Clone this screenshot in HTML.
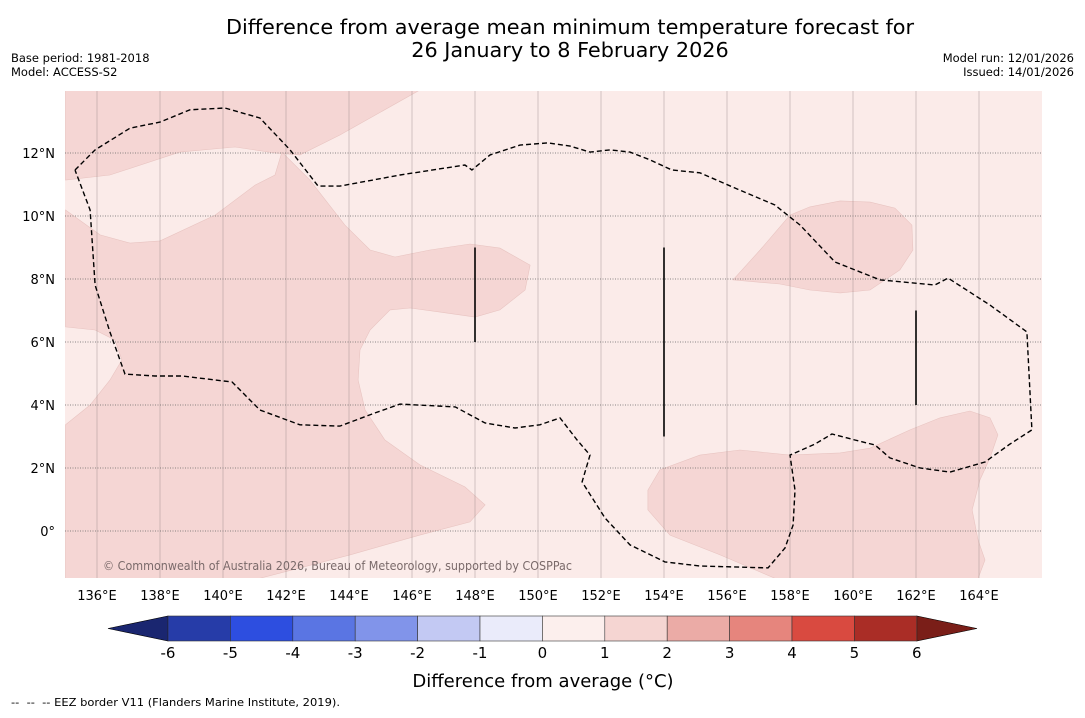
<!DOCTYPE html>
<html><head><meta charset="utf-8"><style>
body{margin:0;background:#fff;font-family:"Liberation Sans","DejaVu Sans",sans-serif;}
svg text{font-family:"DejaVu Sans","Liberation Sans",sans-serif;}
</style></head><body>
<svg id="chart" width="1085" height="713" xmlns="http://www.w3.org/2000/svg">
<rect width="1085" height="713" fill="#fff"/>
<text x="570" y="34" font-size="20.8" text-anchor="middle">Difference from average mean minimum temperature forecast for</text>
<text x="570" y="57" font-size="20.8" text-anchor="middle">26 January to 8 February 2026</text>
<text x="11" y="62" font-size="11.5">Base period: 1981-2018</text>
<text x="11" y="76" font-size="11.5">Model: ACCESS-S2</text>
<text x="1074" y="62" font-size="11.5" text-anchor="end">Model run: 12/01/2026</text>
<text x="1074" y="76" font-size="11.5" text-anchor="end">Issued: 14/01/2026</text>
<defs><clipPath id="mapclip"><rect x="65" y="91" width="977" height="487"/></clipPath></defs>
<g id="map" clip-path="url(#mapclip)">
<rect x="65" y="91" width="977" height="487" fill="#fbebe9"/>
</g>
<g id="axes"></g>
<text x="103" y="570" font-size="12" fill="#7a6a6a" textLength="469" lengthAdjust="spacingAndGlyphs">© Commonwealth of Australia 2026, Bureau of Meteorology, supported by COSPPac</text>
<g id="cbar"></g>
<text x="543" y="687" font-size="18" text-anchor="middle">Difference from average (°C)</text>
<text x="11" y="706" font-size="11" xml:space="preserve" textLength="329" lengthAdjust="spacingAndGlyphs">--  --  -- EEZ border V11 (Flanders Marine Institute, 2019).</text>
</svg>
<script>
const lonTicks=[136,138,140,142,144,146,148,150,152,154,156,158,160,162,164];
const latTicks=[0,2,4,6,8,10,12];
const regionA=[[135,14],[146.25,14],[143.71,12.57],[142.44,11.94],[141.65,12.0],[140.38,12.19],[138.63,12.03],[136.41,11.3],[135,11.14]];
const regionB=[[135,10.19],[136.1,9.4],[137.05,9.14],[138,9.21],[139.75,10.03],[141.02,10.98],[141.65,11.3],[141.87,12.03],[142.76,11.14],[143.87,9.71],[144.67,8.92],[145.46,8.7],[146.57,8.92],[147.84,9.11],[148.79,8.98],[149.75,8.44],[149.59,7.65],[148.79,7.02],[148.0,6.79],[146.89,6.95],[145.94,7.08],[145.3,7.02],[144.67,6.38],[144.35,5.75],[144.29,4.79],[144.51,3.84],[145.14,2.89],[146.25,2.1],[147.68,1.4],[148.32,0.83],[147.84,0.29],[146.25,-0.13],[144.03,-0.76],[141.17,-1.5],[135,-1.5],[135,3.37],[135.78,4.0],[136.41,4.79],[136.79,5.43],[136.57,6.06],[135.94,6.38],[135,6.48]];
const regionC=[[153.49,1.3],[153.87,1.94],[155.14,2.41],[156.41,2.57],[158.0,2.41],[159.59,2.48],[160.54,2.63],[161.81,3.21],[162.76,3.59],[163.71,3.81],[164.35,3.59],[164.6,3.05],[164.35,2.32],[164.03,1.62],[163.78,0.67],[163.97,-0.29],[164.19,-0.92],[163.97,-1.5],[157.52,-1.5],[155.78,-0.76],[154.19,-0.13],[153.49,0.67]];
const regionD=[[156.19,7.97],[157.05,8.92],[158.0,10.03],[158.63,10.29],[159.59,10.48],[160.54,10.44],[161.33,10.25],[161.87,9.71],[161.9,8.92],[161.49,8.29],[160.54,7.65],[159.59,7.56],[158.63,7.65],[157.68,7.84]];
const eez=[[135.3,11.46],[135.94,12.1],[137.05,12.79],[138.0,12.98],[138.95,13.37],[140.06,13.43],[141.17,13.11],[142.13,12.1],[143.02,10.95],[143.71,10.95],[145.62,11.3],[147.68,11.62],[147.9,11.46],[148.48,11.94],[149.43,12.25],[150.32,12.32],[151.02,12.22],[151.65,12.03],[152.29,12.1],[152.92,12.03],[153.56,11.78],[154.25,11.46],[155.14,11.37],[156.25,10.89],[157.52,10.35],[158.32,9.71],[159.43,8.54],[160.86,7.97],[162.6,7.81],[163.02,8.03],[164.35,7.17],[165.52,6.32],[165.68,3.21],[164.98,2.76],[164.19,2.19],[163.08,1.87],[162.13,2.0],[161.17,2.32],[160.7,2.73],[160.06,2.89],[159.33,3.08],[158.79,2.76],[158.0,2.41],[158.16,1.3],[158.1,0.19],[157.84,-0.54],[157.3,-1.17],[155.14,-1.11],[154.03,-0.98],[152.92,-0.44],[152.13,0.41],[151.4,1.56],[151.65,2.41],[151.24,2.89],[150.7,3.59],[150.06,3.37],[149.27,3.27],[148.32,3.43],[147.37,3.94],[145.62,4.03],[144.83,3.75],[143.71,3.33],[142.44,3.37],[141.17,3.84],[140.29,4.73],[138.7,4.92],[137.84,4.92],[136.89,4.98],[136.41,6.32],[135.94,7.81],[135.78,10.19],[135.3,11.46]];
const segLons=[148,154,162];
const segLatStart=[6,3,4];
const segLatEnd=[9,9,7];
const cbarValues=[-6,-5,-4,-3,-2,-1,0,1,2,3,4,5,6];
const cbarColors=["#263ca8","#2d4ee0","#5a75e3","#8194ea","#c3c9f3","#eaebfa","#fcefed","#f5d5d2","#ebaba6","#e6857d","#d94a40","#aa2d26"];

const NS="http://www.w3.org/2000/svg";
const xS=lon=>97+(lon-136)*31.5;
const yS=lat=>531-lat*31.5;
const map=document.getElementById('map'), axes=document.getElementById('axes'), cbar=document.getElementById('cbar');
function mk(tag,attrs,parent){const e=document.createElementNS(NS,tag);for(const k in attrs)e.setAttribute(k,attrs[k]);parent.appendChild(e);return e;}
const pts=a=>a.map(p=>xS(p[0]).toFixed(1)+','+yS(p[1]).toFixed(1)).join(' ');
[[regionA,'anomaly-region-north'],[regionB,'anomaly-region-west'],[regionC,'anomaly-region-southeast'],[regionD,'anomaly-region-east']].forEach(([r,n])=>{
 const p=mk('polygon',{points:pts(r),fill:'#f5d6d4',stroke:'#e8c4c1','stroke-width':0.6},map);
 
 
});
lonTicks.forEach(l=>{
 const g=mk('line',{x1:xS(l),x2:xS(l),y1:91,y2:578,stroke:'#8a7a7a','stroke-opacity':0.45,'stroke-width':0.8},map);
 
 
 const t=mk('text',{x:xS(l),y:600,'font-size':13,'text-anchor':'middle'},axes);
 t.textContent=l+'°E';
 
 
});
latTicks.forEach(l=>{
 const g=mk('line',{x1:65,x2:1042,y1:yS(l),y2:yS(l),stroke:'#666','stroke-width':0.8,'stroke-dasharray':'1,1.5'},map);
 
 
 const t=mk('text',{x:55,y:yS(l)+5,'font-size':13,'text-anchor':'end'},axes);
 t.textContent=l===0?'0°':l+'°N';
 
 
});
const e=mk('polyline',{points:pts(eez),fill:'none',stroke:'#000','stroke-width':1.4,'stroke-dasharray':'5,3'},map);


segLons.forEach((l,i)=>{
 const s=mk('line',{x1:xS(l),x2:xS(l),y1:yS(segLatStart[i]),y2:yS(segLatEnd[i]),stroke:'#000','stroke-width':1.6},map);
 
 
});
const cx=v=>168+(v+6)*62.4, cy0=616, cy1=641;
const l1=mk('polygon',{points:`108,628.5 ${cx(-6)},${cy0} ${cx(-6)},${cy1}`,fill:'#1a2670',stroke:'#000','stroke-width':0.6},cbar);


const r1=mk('polygon',{points:`977,628.5 ${cx(6)},${cy0} ${cx(6)},${cy1}`,fill:'#7a1e18',stroke:'#000','stroke-width':0.6},cbar);


cbarColors.forEach((c,i)=>{
 const r=mk('rect',{x:cx(cbarValues[i]),y:cy0,width:cx(cbarValues[i+1])-cx(cbarValues[i]),height:cy1-cy0,fill:c,stroke:'#333','stroke-width':0.6},cbar);
 
 
});
cbarValues.forEach(v=>{
 const t=mk('text',{x:cx(v),y:658,'font-size':15,'text-anchor':'middle'},cbar);
 t.textContent=v;
 
 
});
</script>
</body></html>
